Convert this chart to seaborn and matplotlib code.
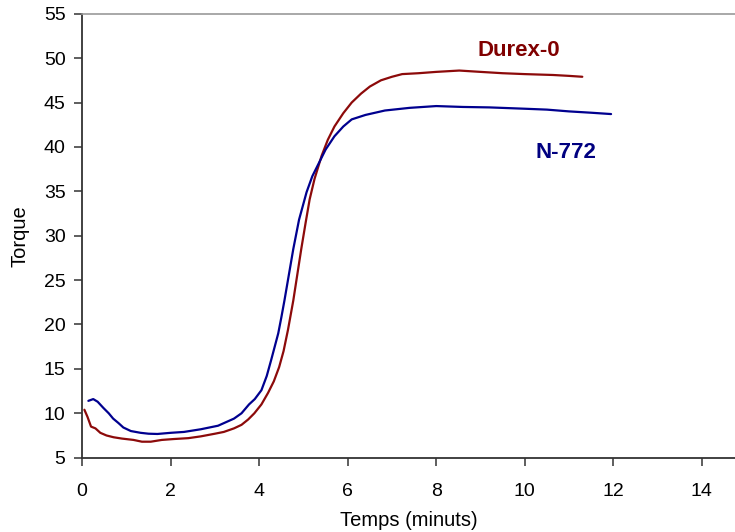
import numpy as np
import pandas as pd
import matplotlib
matplotlib.use('Agg')
import matplotlib.pyplot as plt
import seaborn as sns

# Durex-0 curve (temps in minutes, torque)
durex_t = [0.05, 0.12, 0.2, 0.3, 0.41, 0.55, 0.71, 0.9, 1.16, 1.35, 1.55, 1.8,
           2.07, 2.4, 2.68, 3.0, 3.2, 3.43, 3.6, 3.75, 3.89, 4.05, 4.2, 4.33,
           4.45, 4.55, 4.65, 4.77, 4.86, 4.95, 5.05, 5.14, 5.25, 5.41, 5.55,
           5.7, 5.9, 6.09, 6.3, 6.5, 6.75, 7.0, 7.23, 7.6, 8.0, 8.52, 9.0, 9.5,
           10.0, 10.64, 11.0, 11.3]
durex_torque = [10.4, 9.6, 8.5, 8.3, 7.8, 7.5, 7.3, 7.15, 7.0, 6.8, 6.8, 7.0,
                7.1, 7.2, 7.4, 7.7, 7.9, 8.3, 8.7, 9.3, 10.0, 11.0, 12.3, 13.6,
                15.2, 17.0, 19.4, 22.7, 25.6, 28.5, 31.5, 34.1, 36.4, 39.0, 40.8,
                42.3, 43.8, 45.0, 46.0, 46.8, 47.5, 47.9, 48.2, 48.3, 48.45, 48.6,
                48.45, 48.3, 48.2, 48.1, 48.0, 47.9]

# N-772 curve
n772_t = [0.14, 0.25, 0.35, 0.48, 0.6, 0.7, 0.82, 0.93, 1.1, 1.32, 1.5, 1.7,
          2.0, 2.3, 2.68, 3.07, 3.43, 3.6, 3.77, 3.9, 4.05, 4.17, 4.27, 4.35,
          4.43, 4.5, 4.57, 4.67, 4.77, 4.9, 5.07, 5.2, 5.34, 5.5, 5.7, 5.9,
          6.09, 6.4, 6.84, 7.4, 8.0, 8.6, 9.2, 10.0, 10.5, 11.0, 11.5, 11.95]
n772_torque = [11.4, 11.6, 11.3, 10.6, 10.0, 9.4, 8.9, 8.4, 8.0, 7.8, 7.7, 7.67,
               7.8, 7.9, 8.2, 8.6, 9.4, 10.0, 11.0, 11.6, 12.6, 14.2, 16.0, 17.5,
               19.0, 20.8, 22.7, 25.6, 28.5, 31.8, 34.9, 36.7, 38.1, 39.7, 41.2,
               42.3, 43.1, 43.6, 44.1, 44.4, 44.6, 44.5, 44.45, 44.3, 44.2, 44.0,
               43.85, 43.7]

sns.set_style('ticks')
plt.rcParams['font.family'] = ['Liberation Sans', 'DejaVu Sans']

fig = plt.figure(figsize=(7.35, 5.32), dpi=100)
ax = fig.add_axes([0.1118, 0.1397, 0.8882, 0.8345])

sns.lineplot(x=durex_t, y=durex_torque, sort=False, color='#8c0a0a', lw=1.6, ax=ax)
sns.lineplot(x=n772_t, y=n772_torque, sort=False, color='#00008f', lw=1.6, ax=ax)

ax.text(9.87, 50.9, 'Durex-0', color='#800000', fontsize=16, fontweight='bold',
        ha='center', va='center')
ax.text(10.92, 39.4, 'N-772', color='#000080', fontsize=16, fontweight='bold',
        ha='center', va='center')

ax.set_xlim(0, 14.75)
ax.set_ylim(5, 55)
ax.set_xticks(range(0, 15, 2))
ax.set_yticks(range(5, 56, 5))

ax.set_xlabel('Temps (minuts)', fontsize=14.5, labelpad=8, color='black')
ax.set_ylabel('Torque', fontsize=14.5, labelpad=10, color='black')

for side in ['left', 'bottom']:
    ax.spines[side].set_color('#333333')
    ax.spines[side].set_linewidth(1.3)
ax.spines['top'].set_visible(True)
ax.spines['top'].set_color('#999999')
ax.spines['top'].set_linewidth(1.2)
ax.spines['right'].set_visible(False)

ax.tick_params(axis='both', direction='out', length=6, width=1.1,
               color='#333333', labelsize=14, labelcolor='black',
               bottom=True, left=True, top=False, right=False)
ax.tick_params(axis='x', pad=12)
ax.tick_params(axis='y', pad=6)

fig.savefig('out.png', dpi=100)
